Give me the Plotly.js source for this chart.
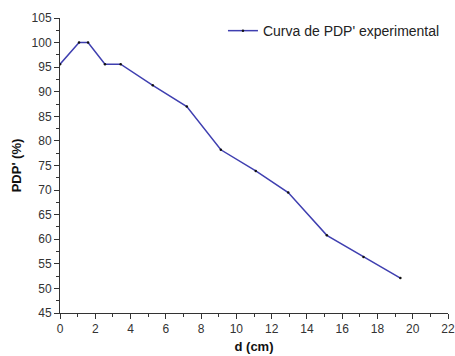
<!DOCTYPE html>
<html>
<head>
<meta charset="utf-8">
<script src="https://cdn.plot.ly/plotly-3.0.1.min.js"></script>
<style>html,body{margin:0;padding:0;background:#fff;}#chart{width:455px;height:356px;}</style>
</head>
<body>
<div id="chart"></div>
<script>
const depth = [0, 1.08, 1.59, 2.55, 3.44, 5.26, 7.19, 9.12, 11.1, 12.94, 15.13, 17.21, 19.3];
const pdp = [95.6, 100.0, 100.0, 95.6, 95.6, 91.3, 87.0, 78.2, 73.9, 69.5, 60.8, 56.4, 52.1];
const seriesName = "Curva de PDP' experimental";
const xTitle = "d (cm)";
const yTitle = "PDP' (%)";

const trace = {
  x: depth, y: pdp, name: seriesName, type: 'scatter', mode: 'lines+markers',
  line: {color: '#3f3fb0', width: 1.5},
  marker: {color: '#111', size: 2.5}
};
const axisCommon = {
  showgrid: false, zeroline: false, showline: true, linecolor: '#333', linewidth: 1,
  ticks: 'outside', ticklen: 5, tickcolor: '#333', tickwidth: 1,
  tickfont: {family: 'Liberation Sans, Arial, sans-serif', size: 12, color: '#333'}
};
const layout = {
  width: 455, height: 356,
  margin: {l: 60, r: 7, t: 18, b: 43},
  paper_bgcolor: '#fff', plot_bgcolor: '#fff',
  showlegend: true,
  legend: {x: 0.42, xanchor: 'left', y: 1.01, yanchor: 'top', bgcolor: 'rgba(0,0,0,0)',
           font: {family: 'Liberation Sans, Arial, sans-serif', size: 14, color: '#222'}},
  xaxis: Object.assign({}, axisCommon, {
    range: [0, 22], dtick: 2, tick0: 0,
    minor: {ticks: 'outside', dtick: 1, ticklen: 3, tickcolor: '#333'},
    title: {text: xTitle, standoff: 6, font: {family: 'Liberation Sans, Arial, sans-serif', size: 13, color: '#111', weight: 'bold'}}
  }),
  yaxis: Object.assign({}, axisCommon, {
    range: [45, 105], dtick: 5, tick0: 45,
    minor: {ticks: 'outside', dtick: 2.5, ticklen: 3, tickcolor: '#333'},
    title: {text: yTitle, standoff: 7, font: {family: 'Liberation Sans, Arial, sans-serif', size: 13, color: '#111', weight: 'bold'}}
  })
};
Plotly.newPlot('chart', [trace], layout, {displayModeBar: false, staticPlot: true});
</script>
</body>
</html>
